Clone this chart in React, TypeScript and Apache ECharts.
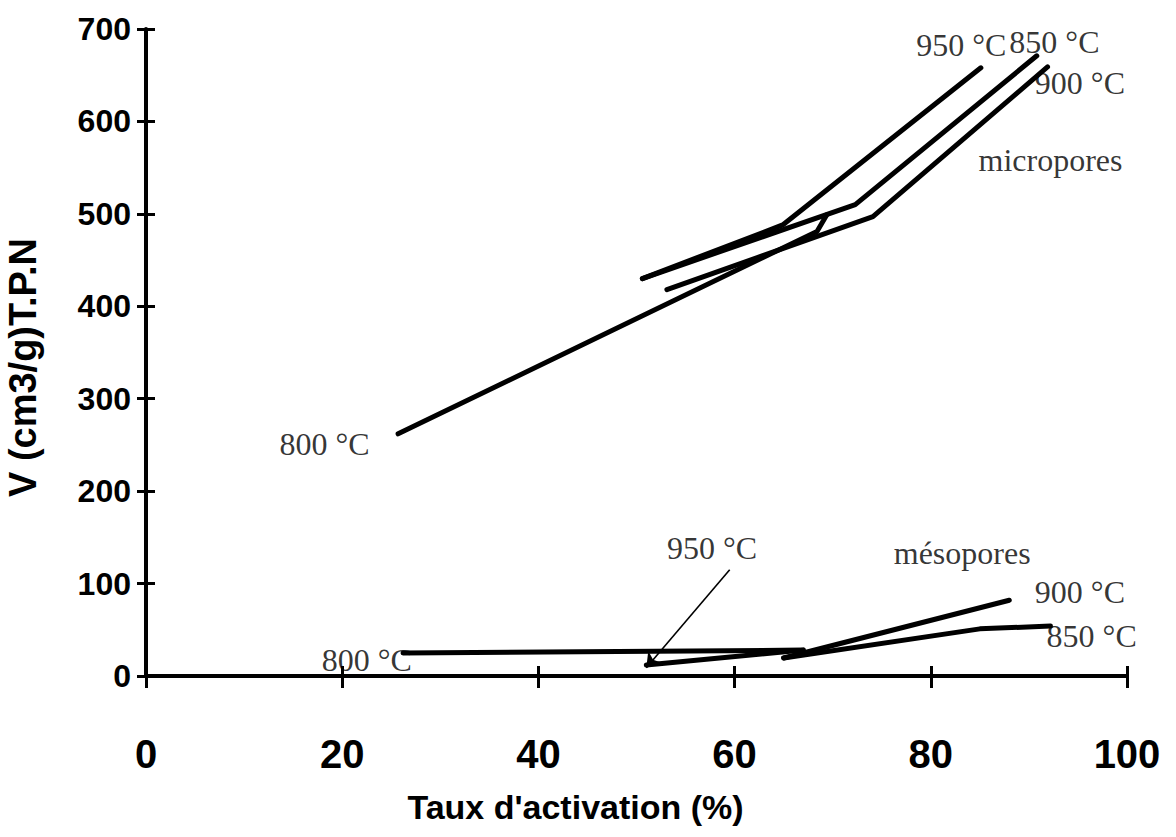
import React, { useEffect, useRef } from "react";
import * as echarts from "echarts";

// Axis bounds / ticks
const xMin = 0;
const xMax = 100;
const xStep = 20;
const yMin = 0;
const yMax = 700;
const yStep = 100;

// Micropores volume (cm3/g T.P.N) vs activation rate (%)
const micro800 = [[25.7, 262], [68.4, 481], [69.4, 499]];
const micro850 = [[50.6, 430], [72.3, 510], [90.8, 671]];
const micro900 = [[53.1, 418], [74.1, 497], [91.9, 659]];
const micro950 = [[50.6, 430], [64.9, 488], [85.1, 658]];

// Mesopores
const meso800 = [[26.2, 25], [67, 28]];
const meso850 = [[65, 19.5], [85, 51], [92.2, 54]];
const meso900 = [[65, 19.5], [88, 82]];
const meso950 = [[51, 12], [67, 28]];

// Annotation texts (anchored in data coordinates)
const annotationNames = [
  "950 °C", "850 °C", "900 °C", "micropores", "800 °C",
  "950 °C", "mésopores", "900 °C", "850 °C", "800 °C",
];
const annotationAnchors = [
  [83.1, 683], [92.6, 686], [95.2, 642], [92.2, 558], [18.2, 251],
  [57.7, 138], [83.2, 133], [95.2, 91], [96.4, 43], [22.5, 17],
];
const arrowCoords = [[59.5, 115], [51, 9]];

const sansBold = "'Liberation Sans', Arial, sans-serif";

function lineSeries(name: string, data: number[][]) {
  return {
    type: "line",
    name,
    data,
    symbol: "none",
    showSymbol: false,
    clip: false,
    silent: true,
    lineStyle: { color: "#000", width: 5, cap: "round", join: "round" },
    itemStyle: { color: "#000" },
  };
}

export default function App() {
  const ref = useRef<HTMLDivElement>(null);
  useEffect(() => {
    if (!ref.current) return;
    const chart = echarts.init(ref.current, undefined, { renderer: "svg" });
    const axisCommon = {
      type: "value",
      splitLine: { show: false },
    };
    chart.setOption({
      animation: false,
      backgroundColor: "#fff",
      grid: {
        left: 146,
        top: 29,
        width: 981,
        height: 647,
        containLabel: false,
        outerBoundsMode: "none",
      },
      xAxis: [
        {
          ...axisCommon,
          min: xMin,
          max: xMax,
          interval: xStep,
          position: "bottom",
          axisLine: { show: true, onZero: false, lineStyle: { color: "#000", width: 4 } },
          axisTick: { show: true, inside: false, length: 12, lineStyle: { color: "#000", width: 3 } },
          axisLabel: {
            color: "#000",
            fontFamily: sansBold,
            fontWeight: "bold",
            fontSize: 40,
            margin: 58,
          },
          name: "Taux d'activation (%)",
          nameLocation: "middle",
          nameGap: 114,
          nameTextStyle: {
            color: "#000",
            fontFamily: sansBold,
            fontWeight: "bold",
            fontSize: 34,
            padding: [0, 122, 0, 0],
          },
        },
        {
          ...axisCommon,
          min: xMin,
          max: xMax,
          interval: xStep,
          position: "bottom",
          axisLine: { show: false, onZero: false },
          axisTick: { show: true, inside: true, length: 10, lineStyle: { color: "#000", width: 3 } },
          axisLabel: { show: false },
        },
      ],
      yAxis: [
        {
          ...axisCommon,
          min: yMin,
          max: yMax,
          interval: yStep,
          position: "left",
          axisLine: { show: true, onZero: false, lineStyle: { color: "#000", width: 4 } },
          axisTick: { show: true, inside: false, length: 9, lineStyle: { color: "#000", width: 3 } },
          axisLabel: {
            color: "#000",
            fontFamily: sansBold,
            fontWeight: "bold",
            fontSize: 32,
            margin: 15,
          },
          name: "V (cm3/g)T.P.N",
          nameLocation: "middle",
          nameGap: 104,
          nameTextStyle: {
            color: "#000",
            fontFamily: sansBold,
            fontWeight: "bold",
            fontSize: 38,
            padding: [0, 30, 0, 0],
          },
        },
        {
          ...axisCommon,
          min: yMin,
          max: yMax,
          interval: yStep,
          position: "left",
          axisLine: { show: false, onZero: false },
          axisTick: { show: true, inside: true, length: 9, lineStyle: { color: "#000", width: 3 } },
          axisLabel: { show: false },
        },
      ],
      series: [
        lineSeries("micro 800 °C", micro800),
        lineSeries("micro 850 °C", micro850),
        lineSeries("micro 900 °C", micro900),
        lineSeries("micro 950 °C", micro950),
        lineSeries("méso 800 °C", meso800),
        lineSeries("méso 850 °C", meso850),
        lineSeries("méso 900 °C", meso900),
        lineSeries("méso 950 °C", meso950),
        {
          type: "lines",
          coordinateSystem: "cartesian2d",
          silent: true,
          data: [{ coords: arrowCoords }],
          symbol: ["none", "arrow"],
          symbolSize: 14,
          lineStyle: { color: "#000", width: 1.6, opacity: 1 },
        },
        {
          type: "scatter",
          silent: true,
          clip: false,
          symbolSize: 1,
          itemStyle: { color: "rgba(0,0,0,0)" },
          data: annotationNames.map((n, i) => ({ name: n, value: annotationAnchors[i] })),
          label: {
            show: true,
            position: "inside",
            formatter: "{b}",
            color: "#000",
            fontFamily: "'Liberation Serif', 'Times New Roman', serif",
            fontSize: 32,
          },
        },
      ],
    });
    return () => chart.dispose();
  }, []);
  return (
    <div
      ref={ref}
      style={{ position: "fixed", left: 0, top: 0, width: 1176, height: 837, background: "#fff" }}
    />
  );
}
